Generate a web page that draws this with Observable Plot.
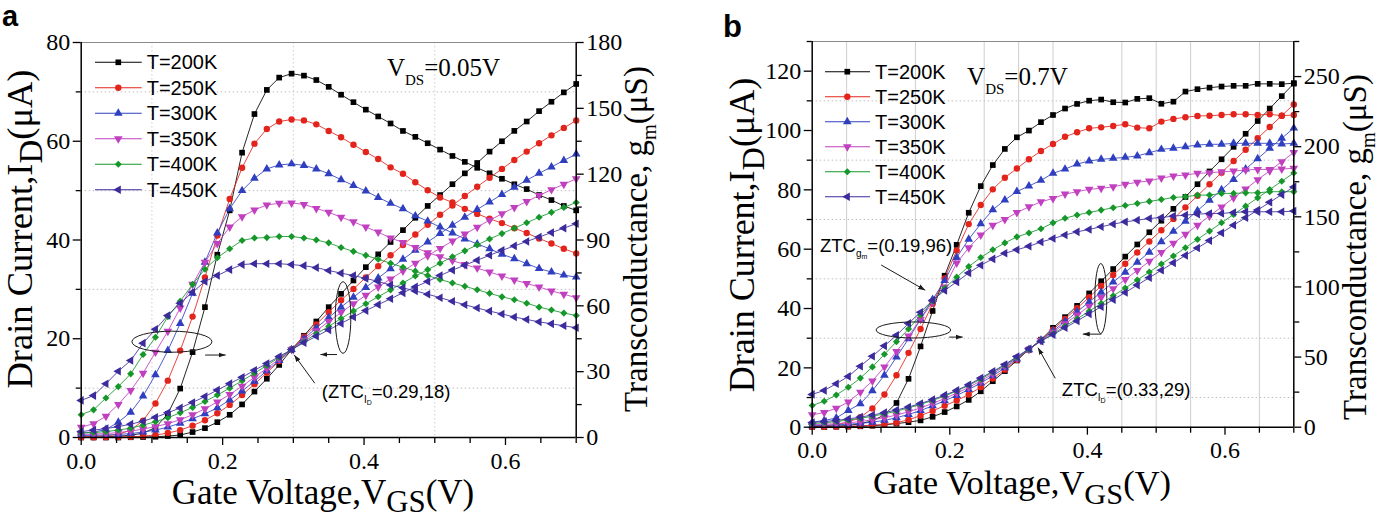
<!DOCTYPE html>
<html><head><meta charset="utf-8">
<script src="https://cdn.jsdelivr.net/npm/d3@7"></script>
<script src="https://cdn.jsdelivr.net/npm/@observablehq/plot@0.6"></script>
<style>
body{margin:0;background:#fff;}
#wrap{display:flex;width:1382px;height:519px;overflow:hidden;}
#wrap svg{overflow:visible;background:#fff;}
</style></head><body><div id="wrap"></div>
<script>
// ---------- data ----------
const vgs = [0,0.0175,0.035,0.0525,0.07,0.0875,0.105,0.1225,0.14,0.1575,0.175,0.1925,0.21,0.2275,0.245,0.2625,0.28,0.2975,0.315,0.3325,0.35,0.3675,0.385,0.4025,0.42,0.4375,0.455,0.4725,0.49,0.5075,0.525,0.5425,0.56,0.5775,0.595,0.6125,0.63,0.6475,0.665,0.6825,0.7];
const temps = ["T=200K","T=250K","T=300K","T=350K","T=400K","T=450K"];
const colors = ["#000000","#e3241c","#2f3fbf","#c040c0","#15972a","#3b2b9c"];
const symbols = ["square","circle","triangle","triangle","diamond2","triangle"];
const rotations = [0,0,0,180,0,-90];

// panel a : VDS = 0.05 V  (drain current, uA)
const a_id_200 = [0,0,0,0,0.05,0.1,0.15,0.3,0.5,1.1,1.9,3.1,4.6,6.7,9.3,11.9,14.7,17.8,20.6,23.5,26.4,29.1,31.8,34.5,37.1,39.6,42.0,44.5,46.9,49.1,51.3,53.5,55.6,57.9,60.0,62.1,64.0,66.1,68.0,69.9,71.6];
const a_id_250 = [0.05,0.06,0.07,0.1,0.15,0.27,0.5,0.9,1.5,2.4,3.5,4.9,6.6,8.6,10.8,13.1,15.5,17.9,20.4,22.9,25.4,27.8,30.1,32.4,34.7,36.9,39.0,41.1,43.1,45.1,47.0,48.9,50.8,52.6,54.4,56.2,57.9,59.6,61.2,62.7,64.2];
const a_id_300 = [0.4,0.45,0.5,0.6,0.8,1.1,1.5,2.1,2.9,3.8,4.8,6.0,7.6,9.4,11.4,13.5,15.6,17.8,20.0,22.2,24.3,26.4,28.4,30.4,32.3,34.2,36.1,37.9,39.6,41.3,43.0,44.6,46.2,47.7,49.2,50.7,52.1,53.5,54.8,56.1,57.4];
const a_id_350 = [0.6,0.7,0.8,1.0,1.3,1.7,2.2,2.8,3.6,4.6,5.8,7.2,8.7,10.4,12.2,14.0,15.9,17.8,19.7,21.6,23.5,25.3,27.1,28.8,30.5,32.1,33.7,35.3,36.8,38.3,39.8,41.2,42.6,44.0,45.3,46.6,47.8,49.0,50.2,51.3,52.4];
const a_id_400 = [0.9,1.0,1.2,1.5,1.9,2.5,3.2,4.0,5.0,6.1,7.3,8.6,10.0,11.5,13.0,14.6,16.2,17.8,19.4,21.0,22.5,24.1,25.6,27.1,28.5,29.9,31.3,32.7,34.0,35.3,36.6,37.8,39.0,40.2,41.3,42.4,43.5,44.6,45.6,46.6,47.6];
const a_id_450 = [1.2,1.5,1.8,2.2,2.7,3.3,4.1,5.0,6.0,7.1,8.3,9.6,10.9,12.2,13.6,15.0,16.4,17.8,19.2,20.5,21.8,23.1,24.4,25.7,26.9,28.1,29.3,30.5,31.6,32.8,33.9,34.9,35.9,36.9,37.9,38.8,39.7,40.6,41.5,42.4,43.3];
// panel a : transconductance, uS
const a_gm_200 = [0.2,0.2,0.3,0.6,1.0,2.0,4.5,10.8,22.3,38.9,59.4,83.3,103.5,129.8,147.4,158.4,164.0,165.8,164.9,162.9,159.8,156.2,152.8,149.4,146.3,143.1,139.7,137.0,134.1,131.2,128.3,125.6,122.9,120.4,117.9,115.4,113.2,110.5,108.2,105.5,103.5];
const a_gm_250 = [0.3,0.5,0.8,1.4,3.4,7.7,15.5,25.9,39.6,55.1,72.9,92.0,108.7,122.9,133.9,140.6,144.0,144.9,144.5,142.7,139.7,136.8,133.4,130.1,126.9,123.1,120.2,116.3,112.7,109.4,107.1,104.2,101.9,99.7,97.7,95.4,93.2,90.7,88.4,86.0,83.9];
const a_gm_300 = [2.0,2.5,3.6,7.0,11.5,18.9,28.6,39.6,52.0,65.7,79.9,93.2,104.2,112.5,118.1,122.4,124.2,124.7,124.0,122.4,120.2,117.5,114.8,112.3,109.4,106.7,104.2,101.0,98.6,95.9,93.2,90.5,88.2,86.0,83.5,81.5,79.2,77.0,75.4,74.0,73.1];
const a_gm_350 = [4.7,6.3,9.7,15.1,21.4,29.3,38.9,48.4,59.0,69.8,79.9,88.4,95.9,100.6,103.7,106.0,106.7,106.9,106.2,104.4,102.6,100.4,98.3,95.9,93.6,90.9,88.9,86.6,84.2,82.4,80.6,78.8,77.2,75.4,73.6,71.8,70.2,68.6,66.8,65.3,63.7];
const a_gm_400 = [10.4,12.6,18.0,23.2,29.0,37.8,45.7,55.1,62.1,69.8,76.7,81.9,86.0,89.8,90.9,91.1,91.6,91.6,90.9,90.0,88.7,86.6,84.8,83.0,81.2,79.4,77.6,75.8,73.8,72.0,70.4,68.9,67.3,65.7,64.1,62.8,61.2,59.4,58.1,56.7,55.6];
const a_gm_450 = [16.9,19.1,24.5,30.2,35.1,43.0,49.3,55.6,61.2,66.2,71.1,73.8,76.5,78.8,79.2,79.2,79.2,78.8,78.3,77.4,76.1,74.9,73.8,72.5,71.1,69.5,68.2,66.8,65.3,63.7,62.1,60.5,59.0,57.6,56.3,54.9,53.8,52.7,51.8,50.9,50.0];

// panel b : VDS = 0.7 V  (drain current, uA)
const b_id_200 = [0.1,0.1,0.15,0.2,0.3,0.5,0.8,1.2,1.7,2.3,3.5,5.1,7.0,9.2,12.1,15.5,18.9,22.5,26.2,29.5,33.5,37.1,40.9,45.1,49.2,53.3,57.5,61.6,65.7,69.6,73.6,77.6,81.9,86.2,90.3,94.5,98.9,103.2,107.4,111.6,115.8];
const b_id_250 = [0.1,0.15,0.2,0.3,0.45,0.65,0.9,1.5,2.5,3.9,5.5,7.2,9.0,11.0,13.5,16.4,19.4,22.7,26.1,29.4,32.9,36.5,40.1,43.8,47.6,51.3,55.1,58.9,62.6,66.4,70.2,74.1,78.0,81.9,85.8,89.7,93.5,97.4,101.2,105.0,108.8];
const b_id_300 = [0.5,0.6,0.8,1.0,1.3,1.7,2.3,3.2,4.3,5.6,7.2,8.9,10.7,12.7,14.9,17.3,20.0,23.0,26.1,29.3,32.4,35.6,38.9,42.2,45.5,48.9,52.2,55.6,59.0,62.5,66.0,69.4,73.0,76.5,80.0,83.5,87.0,90.5,94.0,97.4,100.8];
const b_id_350 = [0.8,1.0,1.2,1.5,1.9,2.5,3.2,4.1,5.2,6.5,8.0,9.7,11.5,13.4,15.6,18.0,20.6,23.3,26.2,29.2,32.0,34.9,37.8,40.8,43.7,46.7,49.8,52.8,55.9,58.9,62.0,65.0,68.1,71.2,74.2,77.3,80.3,83.4,86.4,89.5,92.6];
const b_id_400 = [1.2,1.5,1.9,2.4,3.0,3.7,4.5,5.4,6.5,7.7,9.0,10.5,12.2,14.1,16.2,18.5,20.9,23.5,26.2,29.1,31.5,34.0,36.5,39.1,41.7,44.3,46.9,49.6,52.3,55.0,57.7,60.5,63.3,66.1,68.9,71.7,74.5,77.3,80.1,82.9,85.7];
const b_id_450 = [1.6,1.9,2.3,2.8,3.4,4.1,4.9,5.8,6.8,8.0,9.3,10.8,12.4,14.3,16.6,18.8,21.1,23.8,26.4,29.0,31.2,33.5,35.8,38.2,40.6,43.0,45.4,47.9,50.4,52.9,55.4,57.9,60.4,62.9,65.5,68.1,70.6,73.2,75.8,78.4,81.0];
// panel b : transconductance, uS
const b_gm_200 = [0.5,0.6,0.8,1.2,2.5,4.5,8.8,17.3,34.5,57.6,82.9,108.0,130.0,152.9,171.9,186.9,198.4,206.7,211.5,217.5,222.6,227.2,230.5,232.8,233.6,231.7,231.5,234.1,234.6,230.6,232.1,239.3,241.0,242.1,242.9,243.4,243.4,244.8,244.8,244.6,245.3];
const b_gm_250 = [0.5,0.8,1.9,3.6,7.1,13.4,23.3,37.0,53.0,70.0,88.0,106.0,126.0,144.8,158.4,169.6,177.9,184.5,191.0,196.9,201.9,207.1,210.3,213.1,213.8,214.8,216.0,213.6,213.1,217.9,219.8,221.0,221.9,222.1,222.6,223.1,223.1,222.6,223.1,222.1,222.6];
const b_gm_300 = [3.6,4.8,6.6,11.9,16.7,26.0,37.0,50.0,63.0,77.0,91.0,104.5,121.0,134.0,145.0,155.0,162.0,168.0,172.0,176.0,181.0,184.0,187.6,189.8,191.0,191.7,192.4,193.4,195.7,198.1,198.9,200.0,201.2,201.7,201.7,202.4,202.4,202.4,202.4,201.9,202.4];
const b_gm_350 = [8.8,10.5,13.5,18.0,25.0,33.0,43.0,54.0,65.0,77.0,89.0,100.0,117.0,128.0,137.0,144.0,148.1,153.1,157.1,160.7,163.1,166.2,167.9,169.6,170.3,171.4,173.2,174.6,175.6,177.6,179.1,179.8,181.0,181.4,182.1,182.6,183.4,183.8,183.8,184.1,184.6];
const b_gm_400 = [15.5,18.5,23.0,28.5,35.0,43.0,52.0,61.0,70.0,80.0,90.0,99.0,107.0,114.5,121.0,126.5,131.4,135.7,138.5,141.5,145.7,149.0,151.3,153.1,154.8,156.5,158.1,159.5,161.0,162.3,163.8,164.3,165.5,165.5,166.7,166.7,167.1,167.1,167.9,167.9,167.9];
const b_gm_450 = [23.4,26.2,31.0,36.2,43.5,50.6,58.0,65.5,74.0,82.0,90.5,97.5,103.6,110.0,115.5,120.0,124.0,126.5,129.0,132.0,134.5,137.0,139.3,141.0,142.9,144.8,146.4,147.6,148.8,149.5,150.5,151.2,151.9,152.4,152.4,153.1,153.6,153.6,153.6,153.6,154.1];

// axis ticks
const xMajor = [0,0.2,0.4,0.6];
const xMinor = [0.05,0.1,0.15,0.25,0.3,0.35,0.45,0.5,0.55,0.65,0.7];
const a_yMajor = [0,20,40,60,80], a_yMinor = [10,30,50,70];
const a_gmMajor = [0,30,60,90,120,150,180], a_gmMinor = [15,45,75,105,135,165];
const b_yMajor = [0,20,40,60,80,100,120], b_yMinor = [10,30,50,70,90,110,130];
const b_gmMajor = [0,50,100,150,200,250], b_gmMinor = [25,75,125,175,225,275];
const a_gridX = [0.1,0.3,0.5], a_gridY = [10,30,50,70];
const b_gridX = [0.05,0.15,0.25,0.3,0.35,0.45,0.5,0.55,0.65], b_gridY = [10,30,50,70,90,110];

// annotations (data coordinates, left axis units)
const a_ellipses = [{cx:0.129,cy:19.3,rx:0.0566,ry:2.13},{cx:0.371,cy:24.2,rx:0.011,ry:7.25}];
const a_arrows = [{x1:0.176,y1:16.6,x2:0.205,y2:16.6},{x1:0.3625,y1:16.7,x2:0.339,y2:16.7},{x1:0.331,y1:10.9,x2:0.302,y2:16.6}];
const b_ellipses = [{cx:0.1478,cy:32.6,rx:0.0542,ry:2.7},{cx:0.4202,cy:43.2,rx:0.0087,ry:11.8}];
const b_arrows = [{x1:0.1999,y1:30.2,x2:0.2195,y2:30.2},{x1:0.421,y1:31.2,x2:0.394,y2:31.2},{x1:0.101,y1:54.5,x2:0.165,y2:46.0},{x1:0.354,y1:16.3,x2:0.329,y2:26.6}];

const panels = [
  {key:"a", width:691, ml:80.7, mr:115.3, mt:42, mb:82, yMax:80, gmMax:180,
   id:[a_id_200,a_id_250,a_id_300,a_id_350,a_id_400,a_id_450],
   gm:[a_gm_200,a_gm_250,a_gm_300,a_gm_350,a_gm_400,a_gm_450],
   yMajor:a_yMajor, yMinor:a_yMinor, gmMajor:a_gmMajor, gmMinor:a_gmMinor, gridX:a_gridX, gridY:a_gridY,
   ellipses:a_ellipses, arrows:a_arrows,
   vds:{x:0.433,y:73.1,val:"=0.05V"}, ztc:[{x:0.341,y:7.8,pre:"(ZTC",sub:"I",sub2:"D",post:"=0.29,18)"}],
   letter:{x:2,y:26,fs:29,t:"a"},
   yTitle:{x:32,y:229,fs:36.5}, rTitle:{x:647,y:239,fs:33}, xTitle:{x:323,y:504,fs:35,sdy:8},
   legend:{x1:95,x2:141.7,xm:118.3,xt:146.7,y0:62.3,dy:25.5}},
  {key:"b", width:691, ml:120.7, mr:88.7, mt:41, mb:92.3, yMax:130, gmMax:275,
   id:[b_id_200,b_id_250,b_id_300,b_id_350,b_id_400,b_id_450],
   gm:[b_gm_200,b_gm_250,b_gm_300,b_gm_350,b_gm_400,b_gm_450],
   yMajor:b_yMajor, yMinor:b_yMinor, gmMajor:b_gmMajor, gmMinor:b_gmMinor, gridX:b_gridX, gridY:b_gridY,
   ellipses:b_ellipses, arrows:b_arrows,
   vds:{x:0.2259,y:115.2,val:"=0.7V"},
   ztc:[{x:0.012,y:59,pre:"ZTC",sub:"g",sub2:"m",post:"=(0.19,96)"},{x:0.3636,y:10.4,pre:"ZTC",sub:"I",sub2:"D",post:"=(0.33,29)"}],
   letter:{x:32,y:37,fs:31,t:"b"},
   yTitle:{x:63,y:235,fs:36}, rTitle:{x:675,y:247,fs:33}, xTitle:{x:331,y:494,fs:34.5,sdy:10},
   legend:{x1:134,x2:179,xm:156.3,xt:184,y0:71.7,dy:25}}
];

const SERIF = "'Liberation Serif','Times New Roman',serif";
const SANS = "'Liberation Sans',Arial,sans-serif";
const symMap = {square:d3.symbolSquare, circle:d3.symbolCircle, triangle:d3.symbolTriangle, diamond2:d3.symbolDiamond2};
const R = 3.2;

function build(p) {
  const ratio = p.yMax / p.gmMax;
  const ax = {fontSize:24, fontFamily:SERIF, label:null, strokeWidth:1.3};
  const marks = [
    Plot.ruleY(p.gridY, {stroke:"#b8b8b8", strokeWidth:0.9, strokeDasharray:"1.5,2.5"}),
    Plot.ruleX(p.gridX, {stroke:"#c8c8c8", strokeWidth:0.9, strokeDasharray: p.key==="a" ? "1.5,2.5" : null}),
    Plot.ruleY([p.yMax], {stroke:"#8a8a8a", strokeWidth:1.2})
  ];
  p.id.forEach((arr, s) => {
    const rowsId = arr.map((v,i) => ({x:vgs[i], y:v}));
    const rowsGm = p.gm[s].map((v,i) => ({x:vgs[i], y:v*ratio}));
    for (const rows of [rowsId, rowsGm]) {
      marks.push(Plot.line(rows, {x:"x", y:"y", stroke:colors[s], strokeWidth:1, strokeOpacity:0.85}));
      marks.push(Plot.dot(rows, {x:"x", y:"y", symbol:symbols[s], rotate:rotations[s], fill:colors[s], r:R}));
    }
  });
  marks.push(
    Plot.ruleY([0], {stroke:"#000", strokeWidth:1.5}),
    Plot.ruleX([0], {stroke:"#000", strokeWidth:1.5}),
    Plot.ruleX([0.7], {stroke:"#000", strokeWidth:1.5}),
    Plot.axisX({...ax, ticks:xMajor, tickSize:8, tickPadding:6, tickFormat:d3.format(".1f")}),
    Plot.axisX({...ax, ticks:xMinor, tickSize:6, tickFormat:()=>""}),
    Plot.axisY({...ax, ticks:p.yMajor, tickSize:8, tickPadding:3, tickFormat:d3.format("d")}),
    Plot.axisY({...ax, ticks:p.yMinor, tickSize:5, tickFormat:()=>""}),
    Plot.axisY({...ax, anchor:"right", ticks:p.gmMajor.map(v=>v*ratio), tickSize:7, tickPadding:3, tickFormat:d=>String(Math.round(d/ratio))}),
    Plot.axisY({...ax, anchor:"right", ticks:p.gmMinor.map(v=>v*ratio), tickSize:5, tickFormat:()=>""})
  );
  const svg = Plot.plot({
    width:p.width, height:519,
    marginLeft:p.ml, marginRight:p.mr, marginTop:p.mt, marginBottom:p.mb,
    x:{domain:[0,0.7]}, y:{domain:[0,p.yMax]},
    style:{background:"#fff", overflow:"visible", fontFamily:SERIF},
    marks
  });
  d3.select(svg).attr("font-family", SERIF);
  d3.select(svg).selectAll("text").style("font-family", SERIF).style("font-size","24px").attr("fill","#000");
  const sx = svg.scale("x"), sy = svg.scale("y");
  const X = v => sx.apply(v), Y = v => sy.apply(v);
  const g = d3.select(svg).append("g").attr("text-anchor","start");
  const defs = g.append("defs");
  defs.append("marker").attr("id","ah-"+p.key).attr("viewBox","0 0 10 10").attr("refX",10).attr("refY",5)
    .attr("markerWidth",7).attr("markerHeight",7).attr("orient","auto")
    .append("path").attr("d","M0,1.5L10,5L0,8.5z").attr("fill","#1a1a1a");
  for (const e of p.ellipses) {
    g.append("ellipse").attr("cx",X(e.cx)).attr("cy",Y(e.cy))
      .attr("rx",X(e.cx+e.rx)-X(e.cx)).attr("ry",Y(e.cy-e.ry)-Y(e.cy))
      .attr("fill","none").attr("stroke","#1a1a1a").attr("stroke-width",1);
  }
  for (const a of p.arrows) {
    g.append("line").attr("x1",X(a.x1)).attr("y1",Y(a.y1)).attr("x2",X(a.x2)).attr("y2",Y(a.y2))
      .attr("stroke","#1a1a1a").attr("stroke-width",1).attr("marker-end",`url(#ah-${p.key})`);
  }
  // VDS
  const vt = g.append("text").attr("x",X(p.vds.x)).attr("y",Y(p.vds.y)).attr("font-family",SERIF).attr("font-size",25).attr("text-anchor","start");
  vt.append("tspan").text("V");
  vt.append("tspan").attr("dy",9).attr("font-size",15).text("DS");
  vt.append("tspan").attr("dy",-9).text(p.vds.val);
  // ZTC labels
  for (const z of p.ztc) {
    const t = g.append("text").attr("x",X(z.x)).attr("y",Y(z.y)).attr("font-family",SANS).attr("font-size",18.5).attr("text-anchor","start");
    t.append("tspan").text(z.pre);
    t.append("tspan").attr("dy",5).attr("font-size",10).text(z.sub);
    t.append("tspan").attr("dy",2).attr("font-size",7).text(z.sub2);
    t.append("tspan").attr("dy",-7).text(z.post);
  }
  // legend
  const L = p.legend;
  temps.forEach((name,s) => {
    const y = L.y0 + s*L.dy;
    g.append("line").attr("x1",L.x1).attr("x2",L.x2).attr("y1",y).attr("y2",y).attr("stroke",colors[s]).attr("stroke-width",1.1);
    g.append("path").attr("d", d3.symbol(symMap[symbols[s]], Math.PI*R*R)())
      .attr("transform",`translate(${L.xm},${y}) rotate(${rotations[s]})`).attr("fill",colors[s]);
    g.append("text").attr("x",L.xt).attr("y",y+7).attr("font-family",SANS).attr("font-size",20).attr("text-anchor","start").text(name);
  });
  // panel letter
  g.append("text").attr("x",p.letter.x).attr("y",p.letter.y).attr("font-family",SANS).attr("font-weight","bold").attr("font-size",p.letter.fs).attr("text-anchor","start").text(p.letter.t);
  // left title
  const yt = g.append("text").attr("transform",`translate(${p.yTitle.x},${p.yTitle.y}) rotate(-90)`).attr("text-anchor","middle")
    .attr("font-family",SERIF).attr("font-size",p.yTitle.fs);
  yt.append("tspan").text("Drain Current,I");
  yt.append("tspan").attr("dy",10).attr("font-size",p.yTitle.fs*0.9).text("D");
  yt.append("tspan").attr("dy",-10).text("(μA)");
  // right title
  const rt = g.append("text").attr("transform",`translate(${p.rTitle.x},${p.rTitle.y}) rotate(-90)`).attr("text-anchor","middle")
    .attr("font-family",SERIF).attr("font-size",p.rTitle.fs);
  rt.append("tspan").text("Transconductance, g");
  rt.append("tspan").attr("dy",9).attr("font-size",p.rTitle.fs*0.62).text("m");
  rt.append("tspan").attr("dy",-9).text("(μS)");
  // x title
  const xt = g.append("text").attr("x",p.xTitle.x).attr("y",p.xTitle.y).attr("text-anchor","middle")
    .attr("font-family",SERIF).attr("font-size",p.xTitle.fs);
  xt.append("tspan").text("Gate Voltage,V");
  xt.append("tspan").attr("dy",p.xTitle.sdy).attr("font-size",p.xTitle.fs*0.88).text("GS");
  xt.append("tspan").attr("dy",-p.xTitle.sdy).text("(V)");
  return svg;
}

const wrap = document.getElementById("wrap");
for (const p of panels) wrap.appendChild(build(p));
</script>
</body></html>
